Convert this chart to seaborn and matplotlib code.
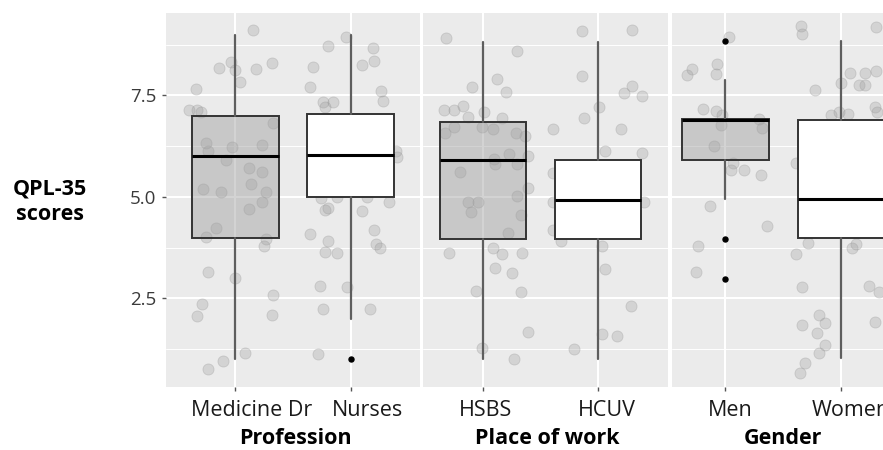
import matplotlib
matplotlib.use("Agg")
import matplotlib.pyplot as plt
from matplotlib.ticker import MultipleLocator
import pandas as pd
import seaborn as sns

# ------------------------------------------------------------------
# Data
# ------------------------------------------------------------------
profession_cats = ["Medicine Dr", "Nurses"]
work_cats = ["HSBS", "HCUV"]
gender_cats = ["Men", "Women"]

# box stats: low whisker, Q1, median, Q3, high whisker
medicine_box = [1.0, 4.0, 6.0, 7.0, 9.0]
nurses_box = [2.0, 5.0, 6.03, 7.04, 9.0]
hsbs_box = [1.0, 3.96, 5.9, 6.85, 8.82]
hcuv_box = [1.0, 3.96, 4.93, 5.91, 8.82]
men_box = [4.95, 5.91, 6.9, 6.92, 7.88]
women_box = [1.03, 3.98, 4.95, 6.9, 8.85]

# outliers
medicine_out = []
nurses_out = [1.0]
hsbs_out = []
hcuv_out = []
men_out = [8.85, 3.96, 2.98]
women_out = []

# jittered individual scores
medicine_y = [9.10, 8.17, 8.33, 8.13, 7.84, 8.15, 8.29, 7.65, 7.14, 7.14, 7.10, 6.83,
              6.32, 6.12, 6.24, 6.28, 5.91, 5.72, 5.61, 5.20, 5.12, 5.32, 5.11, 4.88,
              4.70, 4.23, 4.02, 3.96, 3.78, 3.14, 3.00, 2.36, 2.07, 2.58, 2.09, 1.15,
              0.96, 0.76]
medicine_jit = [0.15, -0.14, -0.04, 0.00, 0.04, 0.18, 0.32, -0.34, -0.40, -0.33, -0.30, 0.33,
                -0.25, -0.24, -0.03, 0.23, -0.08, 0.12, 0.23, -0.28, -0.12, 0.14, 0.27, 0.23,
                0.12, -0.17, -0.25, 0.27, 0.25, -0.24, 0.00, -0.29, -0.33, 0.33, 0.32, 0.08,
                -0.11, -0.24]

nurses_y = [8.93, 8.72, 8.68, 8.36, 8.25, 8.21, 7.70, 7.62, 7.37, 7.35, 7.35, 7.22,
            6.12, 5.99, 4.97, 5.01, 5.01, 4.88, 4.68, 4.72, 4.66, 4.08, 4.19, 3.92,
            3.84, 3.74, 3.64, 3.61, 2.81, 2.78, 2.24, 2.24, 1.13]
nurses_jit = [-0.04, -0.20, 0.19, 0.20, 0.10, -0.33, -0.35, 0.26, 0.28, -0.24, -0.15, -0.22,
              0.39, 0.40, -0.26, -0.12, 0.14, 0.33, -0.22, -0.20, 0.10, -0.35, 0.20, -0.20,
              0.22, 0.25, -0.22, -0.12, -0.27, -0.03, -0.24, 0.17, -0.28]

hsbs_y = [8.91, 8.60, 7.90, 7.72, 7.59, 7.14, 7.14, 7.24, 6.98, 7.10, 6.94, 6.58,
          6.73, 6.73, 6.67, 6.57, 6.50, 5.62, 5.93, 5.81, 6.06, 5.81, 6.01, 4.88,
          4.88, 4.64, 5.02, 5.21, 4.56, 4.12, 3.61, 3.74, 3.60, 3.63, 3.26, 3.12,
          2.69, 2.67, 1.68, 1.27, 1.00]
hsbs_jit = [-0.32, 0.30, 0.12, -0.09, 0.20, -0.34, -0.25, -0.17, -0.13, 0.01, 0.17, -0.33,
            -0.25, -0.01, 0.09, 0.29, 0.37, -0.20, 0.10, 0.11, 0.23, 0.30, 0.39, -0.13,
            -0.04, -0.10, 0.30, 0.39, 0.33, 0.22, -0.29, 0.09, 0.17, 0.34, 0.11, 0.25,
            -0.06, 0.33, 0.39, -0.01, 0.27]

hcuv_y = [9.09, 9.11, 7.98, 7.57, 7.73, 7.49, 7.22, 6.94, 6.67, 6.67, 6.12, 6.08,
          5.60, 4.88, 4.88, 4.19, 3.92, 3.79, 3.22, 2.32, 1.62, 1.58, 1.26]
hcuv_jit = [-0.14, 0.30, -0.14, 0.23, 0.30, 0.38, 0.01, -0.12, -0.39, 0.20, 0.06, 0.38,
            -0.39, -0.39, 0.40, -0.39, -0.32, 0.04, 0.06, 0.29, 0.04, 0.17, -0.21]

men_y = [8.95, 8.00, 8.15, 8.28, 8.03, 7.16, 7.12, 7.02, 6.77, 6.91, 6.69, 6.26,
         5.83, 5.67, 5.67, 5.54, 4.78, 4.29, 3.79, 3.14]
men_jit = [0.03, -0.33, -0.29, -0.07, -0.08, -0.19, -0.08, -0.03, -0.04, 0.29, 0.32, -0.10,
           0.07, 0.05, 0.16, 0.31, -0.13, 0.36, -0.24, -0.25]

women_y = [9.21, 9.01, 9.19, 8.06, 8.06, 8.10, 7.76, 7.76, 7.80, 7.64, 7.22, 7.10,
           7.02, 7.08, 7.04, 5.83, 3.86, 3.60, 3.74, 3.83, 2.79, 2.81, 2.67, 1.93,
           1.85, 2.09, 1.89, 1.66, 1.35, 1.15, 0.90, 0.67]
women_jit = [-0.35, -0.34, 0.30, 0.07, 0.20, 0.30, 0.15, 0.20, 0.00, -0.23, 0.29, 0.31,
             -0.09, -0.02, 0.06, -0.39, -0.29, -0.39, 0.09, 0.13, -0.34, 0.24, 0.32, 0.29,
             -0.34, -0.19, -0.14, -0.21, -0.14, -0.19, -0.31, -0.36]

# ------------------------------------------------------------------
# Styling
# ------------------------------------------------------------------
sns.set_theme(style="darkgrid", rc={
    "axes.facecolor": "#EBEBEB",
    "grid.color": "white",
    "axes.edgecolor": "none",
})
plt.rcParams["font.family"] = ["Open Sans", "DejaVu Sans"]

W, H = 883, 450
fig = plt.figure(figsize=(W / 100, H / 100), dpi=100)


def px_rect(left, right, top=13, bottom=387):
    return [left / W, 1 - bottom / H, (right - left) / W, (bottom - top) / H]


def make_stats(box, fliers):
    lo, q1, med, q3, hi = box
    return dict(whislo=lo, q1=q1, med=med, q3=q3, whishi=hi, fliers=fliers)


def draw_panel(ax, cats, boxes, outs, ys, jits, xlim, label_shift, show_y):
    # jittered points underneath the boxes
    for i, (yv, jv) in enumerate(zip(ys, jits)):
        df = pd.DataFrame({"pos": [i + j for j in jv], "score": yv})
        sns.scatterplot(data=df, x="pos", y="score", ax=ax, s=64,
                        color="#9c9c9c", alpha=0.3, edgecolor="#8c8c8c",
                        linewidth=0.6, zorder=2, legend=False)

    stats = [make_stats(b, o) for b, o in zip(boxes, outs)]
    bp = ax.bxp(stats, positions=[0, 1], widths=0.75, patch_artist=True,
                manage_ticks=False, showcaps=False,
                boxprops=dict(edgecolor="#333333", linewidth=1.4),
                whiskerprops=dict(color="#5e5e5e", linewidth=1.6),
                medianprops=dict(color="black", linewidth=2.2),
                flierprops=dict(marker="o", markerfacecolor="black",
                                markeredgecolor="black", markersize=3.6))
    bp["boxes"][0].set_facecolor((0.62, 0.62, 0.62, 0.45))
    bp["boxes"][1].set_facecolor("white")
    for artist_list in bp.values():
        for a in artist_list:
            a.set_zorder(3)

    ax.set_xlim(*xlim)
    ax.set_ylim(0.32, 9.53)
    ax.set_xticks([0, 1])
    ax.set_xticklabels([])
    # category names, nudged as in the original layout
    for i, (cat, dx) in enumerate(zip(cats, label_shift)):
        ax.annotate(cat, xy=(i, 0), xycoords=("data", "axes fraction"),
                    xytext=(dx * 0.72, -23 * 0.72), textcoords="offset points",
                    ha="center", va="center", fontsize=15.5, color="#1a1a1a",
                    annotation_clip=False)
    ax.set_yticks([2.5, 5.0, 7.5])
    ax.yaxis.set_minor_locator(MultipleLocator(1.25))
    ax.grid(which="major", color="white", linewidth=1.5)
    ax.grid(which="minor", color="white", linewidth=0.7)
    ax.set_axisbelow(True)
    ax.tick_params(axis="x", length=3, width=1, color="#555555", bottom=True)
    ax.tick_params(which="minor", length=0)
    if show_y:
        ax.set_yticklabels(["2.5", "5.0", "7.5"], fontsize=13.5, color="#3a3a3a")
        ax.tick_params(axis="y", length=3, width=1, color="#555555", pad=4, left=True)
    else:
        ax.set_yticklabels([])
        ax.tick_params(axis="y", length=0)
    ax.set_xlabel("")
    ax.set_ylabel("")
    for sp in ax.spines.values():
        sp.set_visible(False)


ax1 = fig.add_axes(px_rect(166, 420))
ax2 = fig.add_axes(px_rect(423, 668))
ax3 = fig.add_axes(px_rect(672, 911))

draw_panel(ax1, profession_cats, [medicine_box, nurses_box], [medicine_out, nurses_out],
           [medicine_y, nurses_y], [medicine_jit, nurses_jit], (-0.6, 1.6), [16, 17], True)
draw_panel(ax2, work_cats, [hsbs_box, hcuv_box], [hsbs_out, hcuv_out],
           [hsbs_y, hcuv_y], [hsbs_jit, hcuv_jit], (-0.52, 1.61), [3, 9], False)
draw_panel(ax3, gender_cats, [men_box, women_box], [men_out, women_out],
           [men_y, women_y], [men_jit, women_jit], (-0.46, 1.6), [5, 9], False)

# axis titles
fig.text(295 / W, 1 - 439 / H, "Profession", ha="center", va="center",
         fontsize=15.5, fontweight="bold", color="black")
fig.text(547 / W, 1 - 439 / H, "Place of work", ha="center", va="center",
         fontsize=15.5, fontweight="bold", color="black")
fig.text(783 / W, 1 - 439 / H, "Gender", ha="center", va="center",
         fontsize=15.5, fontweight="bold", color="black")
fig.text(50 / W, 1 - 202 / H, "QPL-35\nscores", ha="center", va="center",
         fontsize=15.5, fontweight="bold", color="black", linespacing=1.3)

fig.savefig("out.png", dpi=100)
